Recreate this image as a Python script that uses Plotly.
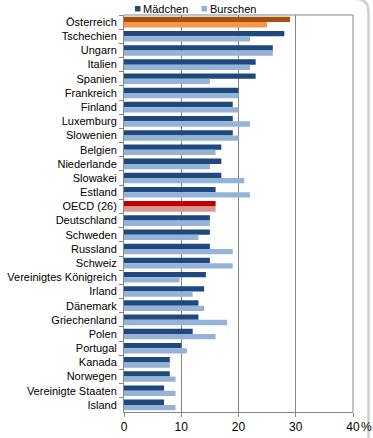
import plotly.graph_objects as go

countries = ["Österreich", "Tschechien", "Ungarn", "Italien", "Spanien", "Frankreich",
             "Finland", "Luxemburg", "Slowenien", "Belgien", "Niederlande", "Slowakei",
             "Estland", "OECD (26)", "Deutschland", "Schweden", "Russland", "Schweiz",
             "Vereinigtes Königreich", "Irland", "Dänemark", "Griechenland", "Polen",
             "Portugal", "Kanada", "Norwegen", "Vereinigte Staaten", "Island"]
maedchen = [29, 28, 26, 23, 23, 20, 19, 19, 19, 17, 17, 17, 16, 16, 15, 15, 15, 15,
            14.3, 14, 13, 13, 12, 10, 8, 8, 7, 7]
burschen = [25, 22, 26, 22, 15, 20, 20, 22, 20, 16, 15, 21, 22, 16, 15, 13, 19, 19,
            9.7, 12, 14, 18, 16, 11, 8, 9, 9, 9]
x_ticks = [0, 10, 20, 30, 40]
x_ticktext = ["0", "10", "20", "30", "40"]

C_M = "#1F497D"
C_B = "#95B3D7"
special_m = {"Österreich": "#A4500F", "OECD (26)": "#C00000"}
special_b = {"Österreich": "#F79646", "OECD (26)": "#DA9694"}
col_m = [special_m.get(c, C_M) for c in countries]
col_b = [special_b.get(c, C_B) for c in countries]

FONT = "Liberation Sans, Arial, sans-serif"

fig = go.Figure()
fig.add_trace(go.Bar(y=countries, x=maedchen, orientation="h", name="Mädchen",
                     marker=dict(color=col_m, line=dict(width=0))))
fig.add_trace(go.Bar(y=countries, x=burschen, orientation="h", name="Burschen",
                     marker=dict(color=col_b, line=dict(width=0))))

# plot-area geometry in pixels
L, R, T, B = 124, 353, 15, 411.7
W, H = 373, 438

def px(xp):
    return (xp - L) / (R - L)

def py(yp):
    return (B - yp) / (B - T)

shapes = [
    # plot border top and right
    dict(type="line", xref="paper", yref="paper", x0=0, x1=1, y0=1, y1=1,
         line=dict(color="#868686", width=1)),
    dict(type="line", xref="paper", yref="paper", x0=1, x1=1, y0=0, y1=1,
         line=dict(color="#868686", width=1)),
    # outer rounded chart frame (right side)
    dict(type="path", xref="paper", yref="paper",
         path=f"M {px(356)},{py(-1)} Q {px(368.5)},{py(-1)} {px(368.5)},{py(12)} L {px(368.5)},{py(440)}",
         line=dict(color="#D0D0D0", width=2.5)),
    # legend keys
    dict(type="rect", xref="paper", yref="paper", x0=px(135), x1=px(140.5), y0=py(11.5), y1=py(6),
         fillcolor=C_M, line=dict(width=0)),
    dict(type="rect", xref="paper", yref="paper", x0=px(201.5), x1=px(207), y0=py(11.5), y1=py(6),
         fillcolor=C_B, line=dict(width=0)),
]

fig.update_layout(
    width=W, height=H,
    margin=dict(l=L, r=W - R, t=T, b=H - B, pad=0),
    paper_bgcolor="white", plot_bgcolor="white",
    barmode="group", bargap=0.25, bargroupgap=0,
    showlegend=False,
    font=dict(family=FONT, size=11, color="#000000"),
    shapes=shapes,
    annotations=[
        dict(xref="paper", yref="paper", x=px(141.5), y=py(9), xanchor="left", yanchor="middle",
             showarrow=False, borderpad=0, font=dict(family=FONT, size=11, color="#000000"),
             text="Mädchen"),
        dict(xref="paper", yref="paper", x=px(208.5), y=py(9), xanchor="left", yanchor="middle",
             showarrow=False, borderpad=0, font=dict(family=FONT, size=11, color="#000000"),
             text="Burschen"),
        dict(xref="paper", yref="paper", x=px(359.5), y=py(426.5), xanchor="left", yanchor="middle",
             showarrow=False, borderpad=0, font=dict(family=FONT, size=12, color="#000000"), text="%"),
    ],
)

fig.update_xaxes(range=[0, 40], tickvals=x_ticks, ticktext=x_ticktext,
                 showgrid=True, gridcolor="#868686", gridwidth=1,
                 showline=True, linecolor="#868686", linewidth=1,
                 ticks="outside", ticklen=4, tickcolor="#868686",
                 tickfont=dict(family=FONT, size=12, color="#000000"),
                 zeroline=False, fixedrange=True, automargin=False)
fig.update_yaxes(autorange="reversed", type="category",
                 showline=True, linecolor="#868686", linewidth=1,
                 ticks="outside", ticklen=4, tickcolor="#868686", tickson="boundaries",
                 ticklabelstandoff=4,
                 tickfont=dict(family=FONT, size=11, color="#000000"),
                 showgrid=False, fixedrange=True, automargin=False)

fig.write_html("out.html", config={"displayModeBar": False},
               post_script="document.body.style.margin='0';document.body.style.overflow='hidden';")
